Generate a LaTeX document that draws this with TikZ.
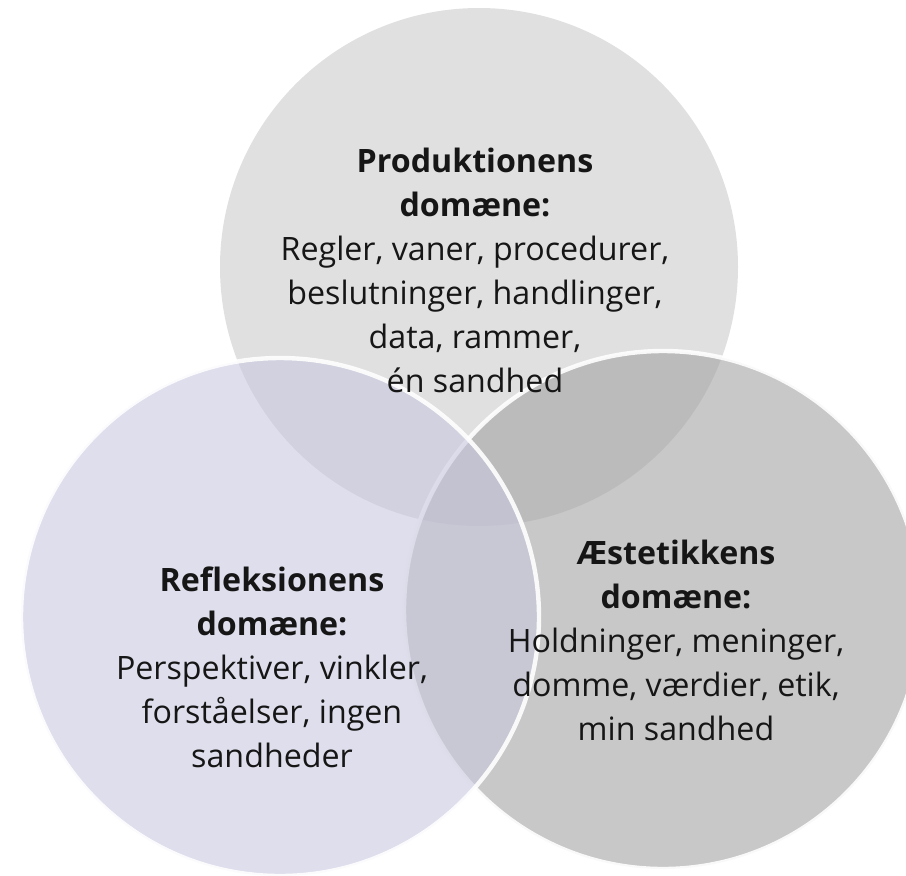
\documentclass[tikz,border=0pt]{standalone}
\usepackage{fontspec}
\setmainfont{Open Sans}
\usetikzlibrary{positioning}
\definecolor{prodfill}{HTML}{E0E0E0}
\definecolor{reflfill}{RGB}{200,200,223}
\definecolor{aestfill}{RGB}{163,163,163}
\definecolor{txt}{HTML}{161616}
\tikzstyle{domaincircle} = [circle, minimum size=259pt, inner sep=0pt, draw=white, line width=2.2pt, fill opacity=0.6, draw opacity=0.9]
\tikzstyle{domaintext} = [align=center, text=txt, font=\fontsize{16.1}{22}\selectfont]
\begin{document}
\begin{tikzpicture}[x=0.5pt, y=-0.5pt]
    \useasboundingbox (0,0) rectangle (906,875);
    \node (prod) [domaincircle, draw=none, fill=prodfill, fill opacity=1] at (479,267) {};
    \node (aest) [domaincircle, fill=aestfill] at (663,610) {};
    \node (refl) [domaincircle, fill=reflfill] at (280,617) {};
    \node (prodtext) [domaintext] at (475,270) {\textbf{Produktionens}\\ \textbf{domæne:}\\ Regler, vaner, procedurer,\\ beslutninger, handlinger,\\ data, rammer,\\ én sandhed};
    \node (refltext) [domaintext] at (272,667) {\textbf{Refleksionens}\\ \textbf{domæne:}\\ Perspektiver, vinkler,\\ forståelser, ingen\\ sandheder};
    \node (aesttext) [domaintext] at (676,640) {\textbf{Æstetikkens}\\ \textbf{domæne:}\\ Holdninger, meninger,\\ domme, værdier, etik,\\ min sandhed};
\end{tikzpicture}
\end{document}
